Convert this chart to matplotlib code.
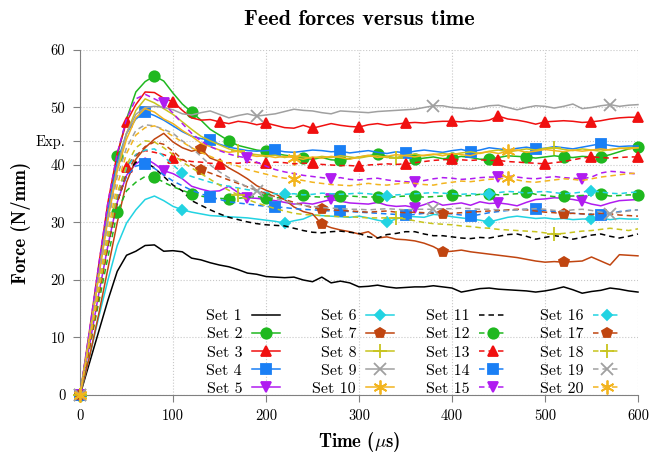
import numpy as np
import matplotlib.pyplot as plt

plt.rcParams['font.family'] = ['cmr10', 'DejaVu Serif']
plt.rcParams['axes.unicode_minus'] = False
plt.rcParams['mathtext.fontset'] = 'cm'

# sample times (us), one value every 10 us
time_us = np.arange(0, 601, 10)

# feed force (N/mm)
set1 = [0, 5.5, 11.0, 16.5, 21.5, 24.3, 25.0, 26.0, 26.1, 25.0, 25.1, 24.9, 23.8, 23.5, 23.0, 22.6, 22.3, 21.8, 21.2, 21.0,
        20.6, 20.5, 20.4, 20.5, 20.0, 19.7, 20.5, 19.5, 19.8, 19.5, 18.8, 18.9, 19.1, 18.8, 18.6, 18.7, 18.8, 18.8, 19.0, 18.8,
        18.6, 17.9, 18.2, 18.5, 18.6, 18.4, 18.3, 18.2, 18.1, 17.9, 18.1, 18.4, 18.8, 18.3, 17.7, 18.0, 18.2, 18.6, 18.4, 18.1, 17.9]
set2 = [0, 10.0, 21.0, 31.5, 41.6, 48.0, 52.7, 54.5, 55.5, 54.6, 52.5, 50.6, 49.2, 47.8, 46.2, 45.2, 44.2, 43.4, 43.0, 42.6,
        42.4, 42.0, 41.7, 41.5, 41.2, 41.0, 41.3, 40.9, 40.8, 41.1, 41.4, 41.6, 41.9, 41.5, 41.2, 41.4, 41.0, 41.2, 41.4, 41.1,
        41.2, 41.5, 41.3, 41.0, 41.0, 41.3, 41.6, 41.5, 41.4, 41.2, 41.4, 41.6, 41.4, 41.3, 41.5, 41.4, 41.4, 41.8, 42.3, 42.8, 43.2]
set3 = [0, 11.0, 22.5, 33.5, 42.0, 47.5, 50.5, 52.7, 52.6, 51.6, 51.0, 49.5, 48.2, 47.8, 47.9, 47.5, 47.2, 47.6, 47.4, 47.0,
        47.3, 46.9, 46.5, 46.4, 46.9, 46.4, 46.8, 47.2, 46.9, 46.7, 46.6, 47.0, 47.2, 46.9, 47.1, 47.3, 47.4, 47.3, 47.5, 47.6,
        47.6, 47.5, 47.7, 47.6, 47.8, 48.5, 48.0, 47.8, 47.5, 47.1, 47.5, 47.6, 47.7, 47.6, 47.4, 47.5, 47.7, 48.0, 48.2, 48.3, 48.3]
set4 = [0, 10.5, 21.5, 32.0, 40.5, 45.5, 48.0, 49.2, 48.6, 47.8, 46.8, 45.8, 45.0, 44.6, 44.3, 43.6, 43.1, 42.8, 42.5, 42.4,
        42.5, 42.6, 42.3, 42.2, 42.4, 42.6, 42.5, 42.3, 42.4, 42.1, 42.3, 42.5, 42.2, 42.0, 42.3, 42.1, 42.4, 42.6, 42.4, 42.2,
        42.5, 42.7, 42.3, 42.6, 43.0, 42.8, 42.6, 42.9, 43.1, 42.8, 42.9, 43.2, 43.0, 42.8, 43.1, 43.4, 43.7, 43.4, 43.2, 43.3, 43.3]
set5 = [0, 8.5, 17.5, 26.0, 33.5, 38.2, 40.2, 41.2, 40.2, 39.0, 38.5, 37.6, 36.3, 35.8, 35.4, 35.5, 36.3, 35.2, 34.3, 34.2,
        34.0, 33.8, 33.5, 33.2, 33.4, 33.2, 33.6, 34.0, 33.7, 33.4, 33.3, 33.2, 33.5, 33.0, 32.8, 32.9, 32.6, 33.1, 33.7, 33.0,
        33.2, 33.4, 33.0, 33.6, 33.3, 33.4, 33.2, 32.9, 33.5, 34.0, 34.1, 34.3, 34.2, 34.0, 33.7, 33.2, 32.9, 33.4, 33.8, 33.9, 34.0]
set6 = [0, 6.5, 13.5, 20.0, 26.0, 29.9, 32.2, 34.0, 34.6, 33.8, 32.8, 32.2, 31.8, 31.5, 31.2, 31.1, 31.0, 30.9, 30.8, 30.6,
        30.4, 30.2, 29.9, 30.3, 30.6, 31.3, 31.2, 31.1, 31.0, 30.9, 31.1, 30.8, 30.4, 30.1, 30.6, 31.1, 31.0, 30.9, 31.4, 31.3,
        31.0, 30.8, 30.6, 30.4, 30.1, 30.5, 30.9, 31.1, 30.9, 30.7, 30.8, 30.6, 30.7, 30.5, 30.6, 30.6, 30.8, 30.5, 30.7, 30.6, 30.6]
set7 = [0, 6.5, 14.0, 22.0, 30.0, 37.0, 41.0, 43.0, 44.5, 45.5, 44.0, 43.0, 42.4, 42.8, 41.2, 40.6, 39.5, 38.6, 37.6, 36.4,
        35.6, 35.0, 34.0, 32.7, 31.9, 31.5, 29.7, 29.1, 28.7, 28.4, 28.0, 28.4, 27.3, 27.5, 27.1, 27.0, 26.8, 26.4, 25.8, 24.9,
        25.0, 25.2, 24.9, 24.7, 24.5, 24.3, 24.1, 23.9, 23.6, 23.3, 23.1, 23.2, 23.1, 23.2, 23.3, 24.0, 23.3, 22.6, 24.4, 24.3, 24.2]
set8 = [0, 10.0, 21.0, 31.0, 39.5, 45.5, 49.5, 51.5, 50.8, 49.8, 48.8, 47.5, 46.2, 45.0, 44.2, 43.5, 42.8, 42.4, 42.0, 41.8,
        41.6, 41.7, 41.3, 41.6, 41.4, 41.2, 41.5, 41.3, 41.6, 41.4, 41.2, 41.5, 41.6, 41.3, 41.3, 41.7, 41.9, 41.6, 41.8, 42.0,
        41.8, 42.1, 42.3, 42.0, 42.4, 42.6, 42.3, 42.5, 42.8, 42.6, 42.9, 43.0, 42.7, 42.5, 42.8, 42.6, 42.4, 42.7, 42.9, 43.0, 43.0]
set9 = [0, 10.0, 21.0, 31.0, 39.5, 45.5, 48.8, 50.0, 50.2, 50.0, 49.6, 48.9, 48.7, 49.1, 49.4, 48.8, 48.2, 48.6, 48.9, 48.5,
        48.7, 48.9, 49.3, 49.7, 49.5, 49.4, 49.1, 48.9, 49.4, 49.3, 49.2, 49.1, 49.3, 49.4, 49.5, 49.6, 49.7, 50.0, 50.3, 50.3,
        50.0, 49.9, 49.7, 50.0, 50.3, 50.4, 50.0, 49.6, 50.0, 50.3, 50.2, 49.9, 50.2, 50.6, 49.8, 50.0, 50.3, 50.5, 50.2, 50.4, 50.5]
set10 = [0, 10.0, 20.5, 30.5, 39.0, 44.5, 48.2, 49.8, 49.2, 48.0, 47.2, 46.0, 45.0, 43.8, 43.2, 42.6, 42.2, 42.4, 41.8, 41.5,
         41.6, 41.3, 41.5, 41.3, 41.0, 41.4, 41.2, 41.5, 41.3, 41.0, 41.4, 41.7, 41.3, 41.5, 41.8, 41.6, 41.4, 41.7, 41.9, 41.6,
         42.0, 41.8, 41.6, 42.1, 42.3, 42.0, 42.4, 42.6, 42.2, 42.4, 42.7, 42.5, 42.3, 42.6, 42.4, 42.6, 42.8, 42.6, 42.9, 42.8, 43.0]
set11 = [0, 8.5, 17.5, 26.0, 33.5, 38.5, 40.5, 40.5, 39.5, 38.0, 36.5, 35.5, 33.8, 33.0, 32.2, 31.5, 30.9, 30.5, 30.1, 29.8,
         29.6, 29.5, 29.4, 29.0, 28.6, 28.3, 28.2, 28.4, 28.5, 28.3, 28.1, 27.5, 27.3, 27.9, 28.1, 28.4, 28.4, 28.0, 27.7, 27.7,
         27.5, 27.3, 27.2, 27.4, 27.3, 27.6, 27.9, 28.0, 27.6, 27.1, 27.4, 27.7, 27.5, 27.1, 27.4, 27.8, 28.0, 27.6, 27.3, 27.6, 28.0]
set12 = [0, 8.0, 16.0, 24.0, 31.8, 35.5, 37.0, 38.0, 37.9, 37.0, 36.2, 35.6, 35.0, 34.6, 34.3, 34.2, 34.1, 34.2, 34.4, 34.5,
         34.3, 34.3, 34.4, 34.5, 34.7, 34.5, 34.4, 34.6, 34.6, 34.6, 34.5, 34.4, 34.5, 34.3, 34.5, 34.6, 34.6, 34.4, 34.5, 34.6,
         34.8, 34.6, 34.7, 34.9, 35.0, 34.8, 34.9, 35.0, 35.3, 34.9, 34.7, 34.5, 34.6, 34.6, 34.7, 34.8, 34.9, 34.6, 34.7, 34.8, 34.8]
set13 = [0, 8.5, 18.0, 27.0, 34.5, 39.7, 41.8, 42.5, 42.2, 41.8, 41.2, 40.9, 40.6, 40.5, 40.3, 40.2, 40.4, 40.3, 40.5, 40.4,
         40.3, 40.5, 40.4, 40.2, 40.3, 40.3, 40.1, 40.0, 39.9, 39.9, 39.8, 40.0, 40.1, 40.2, 40.1, 40.2, 40.4, 40.6, 40.8, 40.9,
         41.0, 40.9, 40.8, 40.9, 40.8, 40.8, 40.6, 40.5, 40.4, 40.3, 40.2, 40.4, 40.6, 40.9, 41.2, 41.4, 41.3, 41.2, 41.3, 41.4, 41.4]
set14 = [0, 8.5, 17.5, 26.5, 34.0, 38.0, 39.8, 40.2, 39.4, 38.3, 37.2, 36.4, 35.6, 35.0, 34.4, 34.0, 33.6, 33.4, 33.2, 33.0,
         32.8, 32.7, 32.6, 32.4, 32.3, 32.2, 32.1, 32.0, 32.0, 31.9, 31.8, 31.7, 31.6, 31.5, 31.4, 31.3, 31.4, 31.6, 31.8, 31.7,
         31.5, 31.3, 31.1, 31.4, 31.7, 31.9, 32.1, 32.2, 32.3, 32.3, 32.1, 31.9, 31.7, 31.6, 31.5, 31.4, 31.3, 31.6, 31.9, 32.1, 32.2]
set15 = [0, 11.0, 22.5, 33.5, 42.0, 48.0, 51.5, 52.3, 51.5, 50.7, 49.0, 47.2, 45.5, 44.2, 43.2, 42.5, 41.9, 41.5, 41.2, 40.5,
         39.8, 39.2, 38.8, 38.5, 38.2, 38.0, 37.8, 37.6, 37.8, 37.5, 37.4, 37.6, 37.7, 37.4, 37.2, 37.1, 37.0, 37.3, 37.6, 37.8,
         37.7, 37.5, 37.6, 37.8, 37.9, 37.9, 38.1, 37.9, 37.7, 37.6, 37.8, 38.0, 37.8, 37.7, 37.6, 37.9, 38.6, 38.9, 38.8, 38.6, 38.4]
set16 = [0, 9.0, 18.5, 27.5, 35.0, 39.5, 41.8, 42.6, 42.8, 41.5, 40.0, 38.6, 38.0, 37.5, 37.0, 36.6, 36.3, 36.0, 35.7, 35.5,
         35.2, 35.0, 34.9, 35.0, 34.8, 34.9, 35.1, 35.0, 34.9, 35.0, 35.1, 35.0, 34.8, 34.6, 34.8, 34.9, 35.0, 35.1, 35.2, 35.1,
         35.0, 34.9, 35.0, 34.9, 34.9, 35.2, 35.4, 35.3, 35.1, 35.3, 35.4, 35.2, 35.0, 35.1, 35.3, 35.5, 35.3, 35.1, 35.0, 35.2, 35.3]
set17 = [0, 8.0, 17.0, 26.0, 33.5, 38.5, 41.5, 43.2, 44.0, 43.6, 42.4, 41.0, 40.0, 39.2, 38.6, 38.0, 37.4, 36.8, 36.2, 35.6,
         35.0, 34.5, 34.0, 33.5, 33.0, 32.6, 32.3, 32.2, 32.1, 32.0, 31.9, 31.8, 31.9, 32.0, 31.8, 31.7, 31.8, 31.7, 31.6, 31.5,
         31.6, 31.7, 31.8, 31.9, 32.0, 32.1, 32.2, 32.3, 32.2, 32.0, 31.8, 31.7, 31.5, 31.6, 31.5, 31.4, 31.6, 31.5, 31.3, 31.2, 31.1]
set18 = [0, 9.0, 18.0, 27.0, 35.0, 40.0, 43.0, 44.2, 44.0, 43.0, 41.8, 40.5, 39.5, 38.5, 37.5, 36.5, 35.6, 34.8, 34.0, 33.4,
         32.9, 32.4, 32.0, 31.6, 31.4, 31.3, 31.2, 31.1, 31.0, 31.0, 30.9, 30.8, 30.8, 30.8, 30.8, 30.6, 30.3, 30.0, 29.8, 29.7,
         29.6, 29.4, 29.3, 29.1, 29.0, 28.8, 28.7, 28.6, 28.5, 28.4, 28.2, 28.0, 28.1, 28.3, 28.5, 28.6, 28.8, 29.0, 28.8, 28.6, 28.9]
set19 = [0, 10.0, 20.0, 30.0, 38.0, 43.0, 46.0, 47.0, 46.8, 46.2, 45.5, 44.2, 43.0, 41.5, 40.0, 38.8, 37.8, 37.0, 36.2, 35.5,
         34.8, 34.2, 33.7, 33.3, 33.0, 32.8, 32.6, 32.5, 32.4, 32.3, 32.3, 32.2, 32.3, 32.4, 32.3, 32.2, 32.3, 32.3, 32.3, 32.4,
         32.4, 32.5, 32.4, 32.3, 32.3, 32.2, 32.1, 32.2, 32.3, 32.4, 32.3, 32.1, 32.0, 32.2, 32.3, 32.1, 31.8, 31.5, 31.8, 32.0, 32.2]
set20 = [0, 9.5, 19.0, 28.5, 36.5, 42.0, 45.2, 46.5, 46.8, 46.0, 45.0, 44.0, 43.0, 42.2, 41.5, 40.8, 40.3, 39.8, 39.2, 38.8,
         38.4, 38.0, 37.7, 37.6, 37.3, 37.0, 36.8, 36.6, 36.5, 36.4, 36.6, 36.8, 36.6, 36.5, 36.7, 36.9, 36.8, 36.6, 36.5, 36.8,
         37.0, 37.2, 37.1, 37.3, 37.5, 37.6, 37.7, 37.4, 37.1, 37.0, 37.2, 37.4, 37.6, 37.5, 37.3, 37.6, 37.9, 38.1, 38.3, 38.5, 38.6]

exp_force = 44.2

all_sets = [set1, set2, set3, set4, set5, set6, set7, set8, set9, set10,
            set11, set12, set13, set14, set15, set16, set17, set18, set19, set20]
labels = [f'Set {i}' for i in range(1, 21)]

# sets 1-10 solid, 11-20 dashed with the same colour / mark
colors = ['black', '#1fb81f', '#f01010', '#1a7ff5', '#b01cf0', '#22d3e2', '#c04510', '#c8c41e', '#a0a0a0', '#f2b41e']
markers = [None, 'o', '^', 's', 'v', 'D', 'p', '+', 'x', (6, 2, 0)]
msizes = [0, 7.5, 7, 6.5, 7.5, 5.5, 7.5, 10, 9, 10]
mark_step = [None, 4, 5, 7, 9, 11, 13, 17, 19, 23]

bold = ['cmb10', 'DejaVu Serif']

fig, ax = plt.subplots(figsize=(6.67, 4.57), dpi=100)
fig.subplots_adjust(left=0.12, right=0.9565, bottom=0.1357, top=0.8906)

for i, vals in enumerate(all_sets):
    k = i % 10
    ls = '-' if i < 10 else (0, (3.6, 2.6))
    ax.plot(time_us, vals, color=colors[k], ls=ls, lw=1.1,
            marker=markers[k], markevery=mark_step[k], ms=msizes[k], mew=1.3,
            label=labels[i], clip_on=False, zorder=3)

ax.set_xlim(0, 600)
ax.set_ylim(0, 60)
ax.set_xticks([0, 100, 200, 300, 400, 500, 600])
ax.set_yticks([0, 10, 20, 30, 40, exp_force, 50, 60])
ax.set_yticklabels(['0', '10', '20', '30', '40', 'Exp.', '50', '60'])
ax.tick_params(labelsize=10.5, colors='#808080', labelcolor='black', length=5, width=0.8, pad=5.5)
ax.grid(True, ls=':', color='#c8c8c8', lw=0.8)
ax.set_axisbelow(True)
for s in ['top', 'right']:
    ax.spines[s].set_visible(False)
for s in ['left', 'bottom']:
    ax.spines[s].set_color('#808080')

ax.set_title('Feed forces versus time', fontfamily=bold, fontsize=16, pad=18)
ax.set_xlabel(r'Time ($\mu$s)', fontfamily=bold, fontsize=13.5, labelpad=5)
ax.set_ylabel('Force (N/mm)', fontfamily=bold, fontsize=13.5, labelpad=3)

ax.legend(ncol=4, loc='lower right', bbox_to_anchor=(0.99, -0.035), frameon=False,
          markerfirst=False, fontsize=11.5, handlelength=1.75, handletextpad=0.6,
          columnspacing=2.05, labelspacing=0.25, borderpad=0.2)

fig.savefig('out.png', dpi=100)
